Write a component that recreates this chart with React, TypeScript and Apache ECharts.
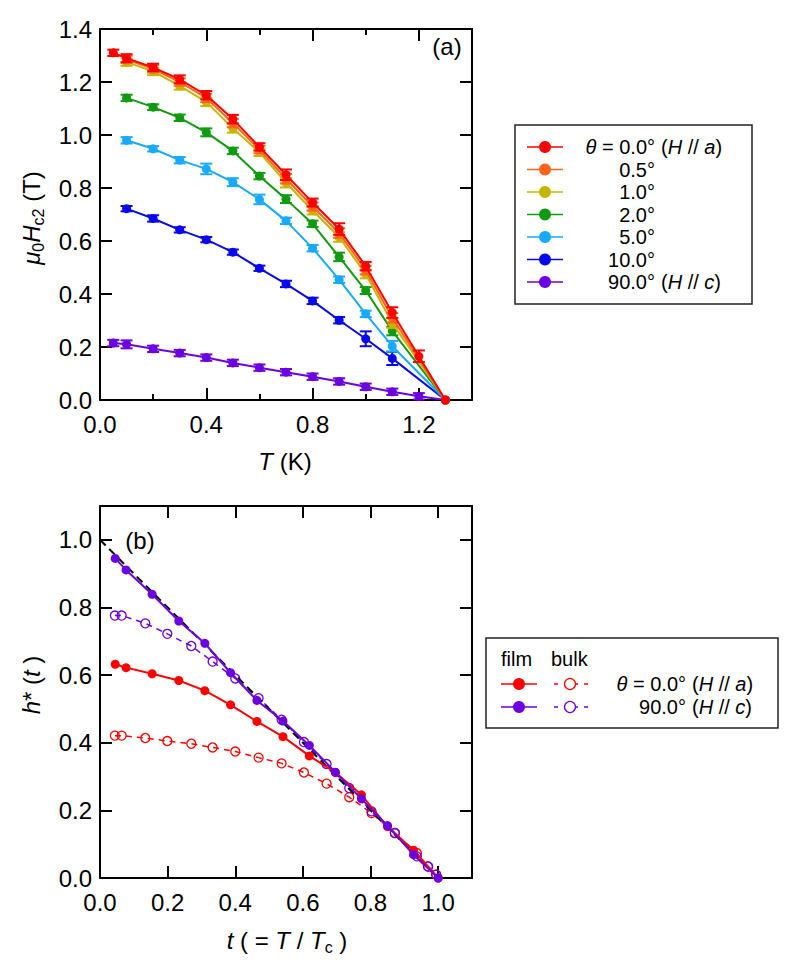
import React, { useEffect, useRef } from "react";
import * as echarts from "echarts";

const FONT = "'Liberation Sans', Arial, Helvetica, sans-serif";
const FS = 24;
const FS_LEG = 20;

// ---------- Panel (a): upper critical field vs temperature ----------
const T_ALL = [0.05, 0.1, 0.2, 0.3, 0.4, 0.5, 0.6, 0.7, 0.8, 0.9, 1.0, 1.1, 1.2, 1.3];
const T_MID = [0.1, 0.2, 0.3, 0.4, 0.5, 0.6, 0.7, 0.8, 0.9, 1.0, 1.1, 1.3];

const hc2_00 = [1.31, 1.29, 1.255, 1.21, 1.15, 1.06, 0.955, 0.85, 0.745, 0.645, 0.505, 0.33, 0.165, 0];
const err_00 = [0.012, 0.015, 0.014, 0.015, 0.016, 0.016, 0.014, 0.02, 0.015, 0.022, 0.016, 0.02, 0.022, 0];
const hc2_05 = [1.285, 1.25, 1.2, 1.14, 1.045, 0.945, 0.835, 0.73, 0.63, 0.49, 0.31, 0];
const err_05 = [0.014, 0.014, 0.014, 0.016, 0.016, 0.014, 0.018, 0.015, 0.018, 0.016, 0.018, 0];
const hc2_10 = [1.275, 1.24, 1.185, 1.125, 1.025, 0.935, 0.82, 0.715, 0.615, 0.475, 0.29, 0];
const err_10 = [0.014, 0.014, 0.014, 0.016, 0.016, 0.014, 0.018, 0.015, 0.018, 0.016, 0.018, 0];
const hc2_20 = [1.14, 1.105, 1.065, 1.01, 0.94, 0.845, 0.758, 0.665, 0.54, 0.413, 0.26, 0];
const err_20 = [0.012, 0.011, 0.012, 0.015, 0.012, 0.012, 0.015, 0.012, 0.016, 0.013, 0.016, 0];
const hc2_50 = [0.98, 0.948, 0.905, 0.872, 0.822, 0.757, 0.676, 0.573, 0.454, 0.325, 0.203, 0];
const err_50 = [0.012, 0.01, 0.012, 0.02, 0.015, 0.018, 0.012, 0.012, 0.012, 0.012, 0.02, 0];
const hc2_100 = [0.722, 0.685, 0.642, 0.605, 0.558, 0.497, 0.438, 0.374, 0.301, 0.231, 0.157, 0];
const err_100 = [0.01, 0.012, 0.01, 0.01, 0.01, 0.01, 0.012, 0.012, 0.012, 0.028, 0.025, 0];
const hc2_900 = [0.215, 0.21, 0.193, 0.177, 0.16, 0.14, 0.122, 0.105, 0.088, 0.07, 0.05, 0.031, 0.014, 0];
const err_900 = [0.012, 0.015, 0.012, 0.012, 0.012, 0.012, 0.012, 0.012, 0.012, 0.012, 0.012, 0.012, 0.012, 0];

const ANGLE_LABELS = ["0.0°", "0.5°", "1.0°", "2.0°", "5.0°", "10.0°", "90.0°"];
const ANGLE_COLORS = ["#ff0000", "#ff6418", "#c8b400", "#109a10", "#18aaff", "#0808ee", "#6c00e0"];
const ANGLE_T = [T_ALL, T_MID, T_MID, T_MID, T_MID, T_MID, T_ALL];
const ANGLE_H = [hc2_00, hc2_05, hc2_10, hc2_20, hc2_50, hc2_100, hc2_900];
const ANGLE_E = [err_00, err_05, err_10, err_20, err_50, err_100, err_900];

const A_X_TICKS = { min: 0, max: 1.4, interval: 0.4 };
const A_Y_TICKS = { min: 0, max: 1.4, interval: 0.2 };

// ---------- Panel (b): normalized h*(t) ----------
const t_film = [0.045, 0.077, 0.154, 0.233, 0.31, 0.386, 0.464, 0.541, 0.619, 0.696, 0.773, 0.85, 0.927, 1.0];
const h_film_a = [0.632, 0.622, 0.604, 0.584, 0.554, 0.512, 0.463, 0.418, 0.361, 0.312, 0.246, 0.152, 0.082, 0];
const h_film_c = [0.945, 0.911, 0.839, 0.76, 0.694, 0.607, 0.525, 0.464, 0.392, 0.313, 0.234, 0.155, 0.069, 0];
const t_bulk = [0.044, 0.064, 0.134, 0.199, 0.27, 0.333, 0.4, 0.469, 0.537, 0.603, 0.67, 0.737, 0.803, 0.872, 0.937, 0.97, 0.994];
const h_bulk_a = [0.421, 0.421, 0.414, 0.405, 0.397, 0.386, 0.374, 0.356, 0.339, 0.312, 0.279, 0.239, 0.192, 0.133, 0.074, 0.034, 0.01];
const h_bulk_c = [0.776, 0.776, 0.753, 0.722, 0.686, 0.64, 0.59, 0.532, 0.468, 0.402, 0.337, 0.266, 0.197, 0.133, 0.064, 0.034, 0.01];
const t_ref = [0, 1];
const h_ref = [1, 0];

const B_TICKS = { min: 0, max: 1.1, interval: 0.2 };
const COLOR_A = "#ff0000";
const COLOR_C = "#6c00e0";

const zip = (xs: number[], ys: number[]) => xs.map((x, i) => [x, ys[i]]);
const zip3 = (xs: number[], ys: number[], es: number[]) => xs.map((x, i) => [x, ys[i], es[i]]);

const RICH = {
  n: { fontSize: FS, fontFamily: FONT, fill: "#000", lineHeight: 30 },
  i: { fontSize: FS, fontFamily: FONT, fontStyle: "italic", fill: "#000", lineHeight: 30 },
  s: { fontSize: 16, fontFamily: FONT, fill: "#000", verticalAlign: "bottom", lineHeight: 16 },
};
const legRich = (lh: number) => ({
  n: { fontSize: FS_LEG, fontFamily: FONT, fill: "#000", lineHeight: lh },
  i: { fontSize: FS_LEG, fontFamily: FONT, fontStyle: "italic", fill: "#000", lineHeight: lh },
});

function txt(text: string, x: number, y: number, align = "left", extra: any = {}, rich: any = RICH) {
  return {
    type: "text",
    x,
    y,
    silent: true,
    z: 100,
    ...extra,
    style: { text, rich, fill: "#000", fontSize: FS, fontFamily: FONT, align, verticalAlign: "middle" },
  };
}

function axisCommon(showLabel: boolean, position: string, gridIndex: number, ticks: any, showMax: boolean, minor: boolean) {
  return {
    type: "value",
    gridIndex,
    position,
    min: ticks.min,
    max: ticks.max,
    interval: ticks.interval,
    axisLine: { show: true, onZero: false, lineStyle: { color: "#000", width: 2 } },
    axisTick: { show: true, inside: true, length: 12, lineStyle: { color: "#000", width: 2 } },
    minorTick: { show: minor, splitNumber: 2, length: 6, lineStyle: { color: "#000", width: 2 } },
    splitLine: { show: false },
    minorSplitLine: { show: false },
    axisLabel: {
      show: showLabel,
      fontSize: FS,
      fontFamily: FONT,
      color: "#000",
      margin: position === "bottom" ? 12 : 8,
      showMaxLabel: showMax,
      formatter: (v: number) => v.toFixed(1),
    },
  };
}

function errorRenderer(color: string) {
  return (params: any, api: any) => {
    const x = api.value(0);
    const y = api.value(1);
    const e = api.value(2);
    if (!e) return { type: "group", children: [] };
    const top = api.coord([x, y + e]);
    const bot = api.coord([x, y - e]);
    const hw = 6;
    const style = { stroke: color, lineWidth: 2 };
    return {
      type: "group",
      children: [
        { type: "line", shape: { x1: top[0], y1: top[1], x2: bot[0], y2: bot[1] }, style },
        { type: "line", shape: { x1: top[0] - hw, y1: top[1], x2: top[0] + hw, y2: top[1] }, style },
        { type: "line", shape: { x1: bot[0] - hw, y1: bot[1], x2: bot[0] + hw, y2: bot[1] }, style },
      ],
    };
  };
}

function buildOption() {
  const series: any[] = [];
  // draw purple first, red last (red on top)
  for (let k = ANGLE_LABELS.length - 1; k >= 0; k--) {
    const c = ANGLE_COLORS[k];
    const z = 2 + (ANGLE_LABELS.length - k) * 2;
    series.push({
      type: "line",
      name: ANGLE_LABELS[k],
      xAxisIndex: 0,
      yAxisIndex: 0,
      data: zip(ANGLE_T[k], ANGLE_H[k]),
      symbol: "circle",
      symbolSize: 9,
      showSymbol: true,
      lineStyle: { color: c, width: 2 },
      itemStyle: { color: c },
      z,
      silent: true,
    });
    series.push({
      type: "custom",
      xAxisIndex: 0,
      yAxisIndex: 0,
      data: zip3(ANGLE_T[k], ANGLE_H[k], ANGLE_E[k]),
      encode: { x: 0, y: 1 },
      renderItem: errorRenderer(c),
      z: z + 1,
      silent: true,
    });
  }

  const bulkStyle = (c: string, z: number, h: number[]) => ({
    type: "line",
    xAxisIndex: 2,
    yAxisIndex: 2,
    data: zip(t_bulk, h),
    symbol: "circle",
    symbolSize: 9,
    lineStyle: { color: c, width: 1.5, type: [6, 5] },
    itemStyle: { color: "rgba(0,0,0,0)", borderColor: c, borderWidth: 1.3 },
    z,
    silent: true,
  });
  series.push(bulkStyle(COLOR_A, 3, h_bulk_a));
  series.push(bulkStyle(COLOR_C, 4, h_bulk_c));
  series.push({
    type: "line",
    xAxisIndex: 2,
    yAxisIndex: 2,
    data: zip(t_ref, h_ref),
    symbol: "none",
    lineStyle: { color: "#000", width: 2, type: [8, 5] },
    z: 5,
    silent: true,
  });
  const filmStyle = (c: string, z: number, h: number[]) => ({
    type: "line",
    xAxisIndex: 2,
    yAxisIndex: 2,
    data: zip(t_film, h),
    symbol: "circle",
    symbolSize: 9,
    lineStyle: { color: c, width: 2 },
    itemStyle: { color: c },
    z,
    silent: true,
  });
  series.push(filmStyle(COLOR_A, 6, h_film_a));
  series.push(filmStyle(COLOR_C, 7, h_film_c));

  // ---------- graphic: labels & legends ----------
  const g: any[] = [];
  // axis names
  g.push(txt("{i|μ}{s|0}{i|H}{s|c2}{n| (T)}", 31, 218, "center", { rotation: Math.PI / 2 }));
  g.push(txt("{i|T}{n| (K)}", 285, 461, "center"));
  g.push(txt("{i|h}{n|* (}{i|t}{n| )}", 31, 685, "center", { rotation: Math.PI / 2 }));
  g.push(txt("{i|t}{n| ( = }{i|T}{n| / }{i|T}{s|c}{n| )}", 287, 940, "center"));
  g.push(txt("{n|(a)}", 447, 46, "center"));
  g.push(txt("{n|(b)}", 140, 540, "center"));

  // legend (a)
  const rowA0 = 147;
  const stepA = 22.5;
  g.push({
    type: "rect",
    shape: { x: 515, y: 125, width: 237, height: 179 },
    style: { fill: "#fff", stroke: "#222", lineWidth: 1.5 },
    z: 90,
    silent: true,
  });
  ANGLE_LABELS.forEach((lab, k) => {
    const y = rowA0 + k * stepA;
    const c = ANGLE_COLORS[k];
    g.push({ type: "line", shape: { x1: 527, y1: y, x2: 563, y2: y }, style: { stroke: c, lineWidth: 1.5 }, z: 100, silent: true });
    g.push({ type: "circle", shape: { cx: 545, cy: y, r: 6 }, style: { fill: c }, z: 101, silent: true });
    const num = k === 0 ? `{i|θ}{n| = ${lab}}` : `{n|${lab}}`;
    g.push(txt(num, 655, y, "right", {}, legRich(20)));
  });
  g.push(txt("{n|(}{i|H}{n| // }{i|a}{n|)}", 661, rowA0, "left", {}, legRich(20)));
  g.push(txt("{n|(}{i|H}{n| // }{i|c}{n|)}", 661, rowA0 + 6 * stepA, "left", {}, legRich(20)));

  // legend (b)
  g.push({
    type: "rect",
    shape: { x: 486, y: 638, width: 292, height: 90 },
    style: { fill: "#fff", stroke: "#222", lineWidth: 1.5 },
    z: 90,
    silent: true,
  });
  g.push(txt("{n|film}", 501, 659, "left", {}, legRich(20)));
  g.push(txt("{n|bulk}", 551, 659, "left", {}, legRich(20)));
  const rowB0 = 684;
  const stepB = 23;
  const rowsB = [
    { c: COLOR_A, num: `{i|θ}{n| = ${ANGLE_LABELS[0]}}`, suf: "{n|(}{i|H}{n| // }{i|a}{n|)}" },
    { c: COLOR_C, num: `{n|${ANGLE_LABELS[6]}}`, suf: "{n|(}{i|H}{n| // }{i|c}{n|)}" },
  ];
  rowsB.forEach((r, k) => {
    const y = rowB0 + k * stepB;
    g.push({ type: "line", shape: { x1: 501, y1: y, x2: 537, y2: y }, style: { stroke: r.c, lineWidth: 1.5 }, z: 100, silent: true });
    g.push({ type: "circle", shape: { cx: 519, cy: y, r: 6 }, style: { fill: r.c }, z: 101, silent: true });
    g.push({ type: "line", shape: { x1: 554, y1: y, x2: 590, y2: y }, style: { stroke: r.c, lineWidth: 1.3, lineDash: [4, 6] }, z: 100, silent: true });
    g.push({ type: "circle", shape: { cx: 570, cy: y, r: 5.5 }, style: { fill: "#fff", stroke: r.c, lineWidth: 1.3 }, z: 101, silent: true });
    g.push(txt(r.num, 686, y, "right", {}, legRich(20)));
    g.push(txt(r.suf, 692, y, "left", {}, legRich(20)));
  });

  return {
    animation: false,
    backgroundColor: "#fff",
    grid: [
      { left: 100, top: 29, width: 372, height: 371 },
      { left: 100, top: 506, width: 372, height: 372 },
    ],
    xAxis: [
      axisCommon(true, "bottom", 0, A_X_TICKS, false, true),
      axisCommon(false, "top", 0, A_X_TICKS, false, true),
      axisCommon(true, "bottom", 1, B_TICKS, false, false),
      axisCommon(false, "top", 1, B_TICKS, false, false),
    ],
    yAxis: [
      axisCommon(true, "left", 0, A_Y_TICKS, true, false),
      axisCommon(false, "right", 0, A_Y_TICKS, true, false),
      axisCommon(true, "left", 1, B_TICKS, false, false),
      axisCommon(false, "right", 1, B_TICKS, false, false),
    ],
    series,
    graphic: { elements: g },
  };
}

export default function App() {
  const ref = useRef<HTMLDivElement>(null);
  useEffect(() => {
    if (!ref.current) return;
    const chart = echarts.init(ref.current, undefined, { renderer: "svg" });
    chart.setOption(buildOption() as any);
    return () => chart.dispose();
  }, []);
  return (
    <div
      ref={ref}
      style={{ position: "fixed", left: 0, top: 0, width: 790, height: 978, background: "#fff" }}
    />
  );
}
